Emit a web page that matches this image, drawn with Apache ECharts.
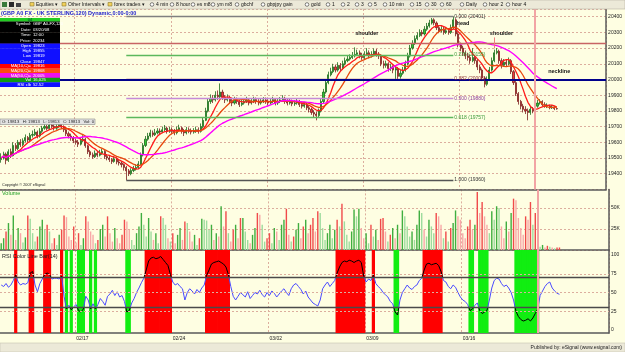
<!DOCTYPE html>
<html>
<head>
<meta charset="utf-8">
<script src="https://cdn.jsdelivr.net/npm/echarts@6/dist/echarts.min.js"></script>
<style>
html,body{margin:0;padding:0;background:#fefee2;}
#main{width:625px;height:352px;}
</style>
</head>
<body>
<div id="main"></div>
<script>
// GBP A0 FX 120-min bars (open = previous close)
var firstOpen = 19490;
var closes = [
 19500,19525,19485,19540,19515,19580,19560,19600,19585,19610,
 19630,19615,19645,19650,19665,19640,19670,19690,19700,19688,
 19710,19702,19690,19700,19715,19698,19680,19655,19640,19628,
 19610,19600,19588,19612,19620,19578,19540,19520,19508,19530,
 19518,19530,19542,19510,19500,19490,19478,19495,19475,19468,
 19458,19440,19418,19400,19420,19432,19440,19462,19520,19580,
 19620,19640,19660,19648,19660,19672,19665,19680,19690,19670,
 19680,19670,19660,19680,19692,19670,19660,19680,19670,19665,
 19672,19680,19670,19700,19740,19800,19860,19880,19870,19900,
 19890,19920,19888,19870,19880,19860,19850,19870,19860,19840,
 19850,19860,19870,19850,19860,19872,19860,19850,19862,19870,
 19860,19850,19860,19872,19850,19860,19870,19880,19860,19850,
 19860,19845,19850,19860,19840,19830,19840,19820,19810,19790,
 19780,19770,19800,19860,19920,19980,20030,20050,20080,20060,
 20090,20070,20100,20120,20130,20140,20150,20160,20170,20150,
 20140,20160,20170,20150,20160,20180,20160,20150,20100,20090,
 20100,20070,20080,20060,20070,20020,20040,20060,20100,20150,
 20200,20230,20260,20280,20300,20290,20320,20340,20360,20380,
 20360,20330,20310,20320,20300,20310,20300,20330,20380,20290,
 20220,20200,20170,20150,20140,20120,20140,20120,20080,20060,
 20010,19970,20000,20060,20120,20170,20180,20120,20090,20110,
 20100,20120,20050,19980,19910,19860,19830,19810,19800,19790,
 19810,19800,19830,19850,19860,19840,19830,19830,19820,19825,
 19815,19813
];
var highs = [
 19530,19540,19535,19555,19560,19600,19595,19615,19620,19625,
 19650,19640,19660,19675,19685,19675,19690,19705,19725,19712,
 19730,19722,19715,19718,19735,19725,19708,19690,19668,19655,
 19640,19625,19615,19630,19645,19630,19585,19550,19535,19548,
 19545,19552,19560,19550,19525,19515,19500,19510,19505,19490,
 19480,19465,19450,19430,19435,19450,19460,19480,19535,19595,
 19640,19660,19680,19675,19685,19690,19688,19700,19710,19700,
 19698,19695,19685,19700,19712,19700,19685,19698,19695,19688,
 19690,19700,19695,19720,19760,19820,19880,19905,19900,19925,
 19930,19975,19935,19900,19905,19895,19880,19890,19885,19870,
 19870,19880,19890,19880,19878,19890,19885,19875,19880,19888,
 19885,19875,19880,19890,19880,19878,19888,19900,19890,19875,
 19880,19872,19868,19878,19870,19855,19858,19850,19835,19820,
 19805,19795,19815,19875,19940,20000,20050,20075,20100,20095,
 20110,20105,20120,20140,20150,20160,20175,20205,20190,20185,
 20170,20180,20200,20185,20180,20198,20195,20175,20160,20120,
 20120,20110,20100,20090,20090,20080,20060,20080,20120,20170,
 20220,20250,20280,20300,20320,20315,20340,20360,20380,20392,
 20390,20370,20345,20340,20335,20330,20325,20350,20401,20390,
 20300,20235,20215,20185,20170,20160,20200,20155,20130,20095,
 20070,20020,20020,20080,20140,20190,20200,20190,20135,20130,
 20125,20140,20130,20060,19990,19920,19870,19845,19830,19815,
 19825,19825,19845,19870,19875,19868,19855,19848,19840,19838,
 19830,19822
];
var lows = [
 19470,19490,19460,19475,19500,19510,19545,19550,19570,19575,
 19600,19600,19605,19630,19640,19625,19630,19660,19680,19675,
 19680,19690,19675,19680,19692,19685,19665,19640,19625,19610,
 19595,19585,19570,19580,19600,19565,19525,19505,19495,19500,
 19505,19510,19520,19495,19485,19475,19462,19470,19460,19452,
 19440,19420,19360,19385,19390,19410,19420,19430,19455,19510,
 19570,19610,19630,19635,19640,19650,19650,19658,19670,19655,
 19660,19655,19645,19650,19670,19655,19640,19650,19658,19650,
 19655,19660,19655,19662,19690,19735,19790,19845,19850,19860,
 19870,19880,19870,19850,19860,19845,19830,19840,19845,19825,
 19830,19840,19850,19835,19840,19850,19845,19835,19840,19850,
 19845,19835,19840,19850,19835,19838,19850,19860,19845,19835,
 19840,19830,19832,19840,19825,19815,19820,19805,19790,19775,
 19760,19740,19755,19790,19850,19910,19970,20020,20040,20045,
 20050,20050,20060,20090,20110,20120,20130,20140,20150,20135,
 20125,20130,20150,20135,20140,20150,20145,20130,20085,20070,
 20075,20050,20055,20040,20000,19995,20005,20030,20050,20090,
 20140,20190,20220,20250,20270,20275,20280,20310,20330,20350,
 20345,20315,20295,20300,20285,20290,20285,20290,20320,20275,
 20205,20180,20150,20130,20120,20100,20110,20100,20060,20040,
 19990,19950,19960,19990,20050,20110,20160,20100,20070,20080,
 20085,20090,20035,19965,19895,19840,19810,19790,19780,19740,
 19775,19785,19790,19820,19840,19830,19820,19818,19810,19812,
 19805,19808
];
// volume in thousands
var volumes = [
 8,14,22,32,18,41,12,26,20,9,
 15,41,37,20,10,16,28,36,24,30,
 22,8,14,6,18,24,41,39,16,12,
 28,9,20,6,14,40,34,22,18,8,
 12,25,30,16,40,20,10,26,14,8,
 18,36,34,24,12,6,20,28,44,30,
 16,38,22,12,20,8,40,38,30,14,
 10,20,8,18,26,12,34,32,22,10,
 18,6,14,37,36,35,24,30,12,20,
 16,52,28,46,20,10,24,30,14,38,
 38,22,12,8,18,26,44,42,30,10,
 14,20,8,26,22,12,30,36,49,18,
 10,16,24,32,14,28,36,20,30,38,
 22,46,44,26,12,20,30,14,24,36,
 28,55,34,18,10,22,48,40,49,26,
 14,20,8,30,16,24,12,37,38,22,
 10,18,26,14,30,20,47,40,28,16,
 22,12,30,47,44,24,16,36,28,20,
 44,40,30,14,22,10,26,32,47,40,
 36,20,14,28,36,24,30,69,44,57,
 40,30,20,46,36,52,50,28,14,34,
 22,44,61,59,38,26,18,40,36,57,
 30,44,8,4,6,3,5,4,3,2,
 3,3
];
var rsi = [
 60,58,62,57,60,66,73,64,60,62,
 61,63,76,78,60,51,62,68,74,76,
 74,68,69,69,68,72,45,28,33,27,
 31,34,26,24,28,45,40,28,35,28,
 34,42,38,33,45,48,53,46,51,44,
 46,38,24,26,36,42,50,56,63,69,
 80,92,96,97,95,96,98,94,90,86,
 74,64,60,62,58,55,40,50,55,52,
 48,54,50,56,60,73,80,88,90,91,
 92,90,88,84,74,58,45,40,45,50,
 47,44,51,42,46,50,48,53,47,44,
 50,46,52,49,44,48,52,55,50,46,
 55,60,62,58,54,48,52,44,40,36,
 34,32,40,55,60,64,58,62,66,76,
 84,90,92,91,93,92,90,92,93,90,
 72,64,68,66,73,62,58,55,50,47,
 44,38,35,24,20,40,50,55,60,56,
 54,58,60,66,69,80,88,89,87,88,
 89,86,78,66,64,58,55,60,57,50,
 44,40,38,34,26,28,33,36,26,22,
 24,26,40,56,66,69,68,62,58,60,
 56,50,40,25,18,14,12,13,15,12,
 16,22,28,46,52,58,62,64,56,52,
 49,47.6
];

var weekStarts = [31, 71, 111, 151, 191];
var weekLabels = ['02/17', '02/24', '03/02', '03/09', '03/16'];
var maPeriods = [7, 13, 33];
var maColors = ['#ff1a1a', '#e8480c', '#ff00ff'];
var fibLevels = [0, 0.236, 0.382, 0.5, 0.618, 1];
var fibLineColors = ['#808080', '#5cb85c', '#b06060', '#c58ad8', '#5cb85c', '#555555'];
var fibTextColors = ['#333333', '#3a9a3a', '#903030', '#9040a0', '#3a9a3a', '#333333'];
var fibHigh = 20401, fibLow = 19360, fibFrom = 52, fibTo = 188;
var necklinePrice = 20000, upperLinePrice = 20230;
var markerBar = 222;
var noteNames = ['shoulder', 'head', 'shoulder', 'neckline'];
var noteBars = [152, 192, 208, 232];
var notePrices = [20290, 20358, 20290, 20050];
var rsiUpper = 70, rsiLower = 30;

var dwLabels = ['', 'Symbol:', 'Date:', 'Time:', 'Price:', 'Open', 'High', 'Low', 'Close', 'MA(10,C)=', 'MA(20,C)=', 'MA(50,C)=', 'Vol', 'RSI clb'];
var dwValues = ['04', 'GBP A0-FX,120', '03/20/08', '12:00', '20234', '19823', '19855', '19819', '19847', '19816', '19868', '20005', '16,025', '52.52'];
var dwColors = ['#22cc22', '#000', '#000', '#000', '#000', '#1010ff', '#1010ff', '#1010ff', '#1010ff', '#ff0000', '#ff4a10', '#ee10ee', '#119911', '#1010ff'];
var dwHeights = [3.5, 5.5, 5.5, 5.5, 5.5, 5.1, 5.1, 5.1, 5.1, 4.6, 4.6, 4.6, 4.6, 4.6];

var toolbarItems = ['Equities \u25BE', 'Other Intervals \u25BE', 'forex trades \u25BE', '4 min', '8 hour', 'es m8', 'ym m8', 'gbchf', 'gbpjpy gain', 'gold', '1', '2', '3', '5', '10 min', '15', '30', '60', 'Daily', 'hour 2', 'hour 4'];
var toolbarX = [30, 62, 108, 150, 170, 191, 211, 235, 261, 305, 326, 341, 355, 368, 383, 410, 425, 440, 460, 483, 506];

var FONT = 'Liberation Sans';
var SLOTS = 252;
var last = closes.length - 1;

var cats = [];
for (var s = 0; s < SLOTS; s++) cats.push(String(s));
var opens = closes.map(function (c, i) { return i === 0 ? firstOpen : closes[i - 1]; });
var candles = closes.map(function (c, i) { return [opens[i], c, lows[i], highs[i]]; });

function movingAverage(period) {
    return closes.map(function (c, i) {
        var from = Math.max(0, i - period + 1), sum = 0;
        for (var k = from; k <= i; k++) sum += closes[k];
        return +(sum / (i - from + 1)).toFixed(1);
    });
}

function isWeekStart(idx) { return weekStarts.indexOf(idx) >= 0; }

// volume colour: up/down, light when volume fell from the bar before
var volData = volumes.map(function (v, i) {
    var up = closes[i] >= opens[i];
    var rising = i === 0 || v >= volumes[i - 1];
    var c = up ? (rising ? '#3fae3f' : '#9edc9e') : (rising ? '#f04a4a' : '#f8a8a8');
    return {value: v, itemStyle: {color: c}};
});

// RSI colour bars: red above upper, green below lower
var bandData = rsi.map(function (v) {
    if (v > rsiUpper) return {value: 1, itemStyle: {color: '#ff0000'}};
    if (v < rsiLower) return {value: 1, itemStyle: {color: '#11ee11'}};
    return '-';
});

var fibLines = fibLevels.map(function (lv, k) {
    var p = fibHigh - lv * (fibHigh - fibLow);
    return [
        {coord: [fibFrom, p], lineStyle: {color: fibLineColors[k], width: 1.3, type: 'solid'},
         label: {show: true, position: 'end', distance: 1, padding: [0, 0, 6, 0], fontSize: 5, fontFamily: FONT,
                 color: fibTextColors[k], formatter: lv.toFixed(3) + ' (' + Math.floor(p) + ')'}},
        {coord: [fibTo, p]}
    ];
});

var markerLine = {xAxis: markerBar, lineStyle: {color: '#f2a4a4', width: 2, type: 'solid'}};

function makeX(gi, showLabels) {
    return {
        type: 'category', gridIndex: gi, data: cats, boundaryGap: true,
        axisLine: {show: true, onZero: false, lineStyle: {color: '#5a5a5a', width: 1.5}},
        axisTick: {show: false},
        axisLabel: showLabels ? {
            show: true, interval: isWeekStart, align: 'left', margin: 3, fontSize: 5, fontFamily: FONT, color: '#222',
            formatter: function (v, idx) { var k = weekStarts.indexOf(idx); return k >= 0 ? weekLabels[k] : ''; }
        } : {show: false},
        splitLine: {show: true, interval: isWeekStart, lineStyle: {color: '#dcae9e', width: 1, type: [2, 2]}}
    };
}

var rightAxisLine = {show: true, lineStyle: {color: '#5a5a5a', width: 1.5}};
var dotted = {color: '#dcae9e', width: 1, type: [2, 2]};

var graphics = [];
function addText(x, y, s, size, color, align, bold) {
    graphics.push({type: 'text', x: x, y: y, z: 100, silent: true,
        style: {text: s, fill: color, font: (bold ? 'bold ' : '') + size + 'px ' + FONT,
                textAlign: align || 'left', textVerticalAlign: 'middle'}});
}
function addRect(x, y, w, h, fill, stroke) {
    graphics.push({type: 'rect', z: 99, silent: true, shape: {x: x, y: y, width: w, height: h},
        style: {fill: fill, stroke: stroke || null, lineWidth: stroke ? 0.6 : 0}});
}

// toolbar
addRect(0, 0, 625, 9, '#ece9d8', '#b8b4a4');
addRect(2, 2, 5, 5, '#3a7a3a');
addRect(9, 2, 5, 5, '#2a2a2a');
addRect(16, 3, 5, 4, '#444');
toolbarItems.forEach(function (t, k) {
    var x = toolbarX[k];
    if (k < 3) {
        addRect(x, 2.5, 4, 3.5, '#f2d15a', '#8a7a30');
    } else {
        graphics.push({type: 'circle', z: 100, silent: true, shape: {cx: x + 2, cy: 4.5, r: 1.8},
            style: {fill: '#fff', stroke: '#333', lineWidth: 0.6}});
    }
    addText(x + 6, 4.7, t, 5, '#111');
});

addText(1, 13, '(GBP A0 FX - UK STERLING,120) Dynamic,0:00-0:00', 5.5, '#1a1acc', 'left', true);

// data window
var yy = 18;
dwLabels.forEach(function (lab, k) {
    addRect(0, yy, 60, dwHeights[k] + 0.2, dwColors[k]);
    if (k === 0) {
        addText(30, yy + dwHeights[k] / 2, dwValues[k], 4, '#033', 'center');
    } else {
        addText(31, yy + dwHeights[k] / 2, lab, 4.2, '#fff', 'right');
        addText(33, yy + dwHeights[k] / 2, dwValues[k], 4.2, '#fff', 'left');
    }
    yy += dwHeights[k];
});

// cursor OHLC strip
addRect(0, 119, 95, 5.5, '#e4e4e4', '#8a8a8a');
addText(2, 122, 'O: ' + closes[last] + '   H: ' + closes[last] + '   L: ' + closes[last] + '   C: ' + closes[last] + '   Vol: 0', 4.2, '#222');

addText(2, 184.5, 'Copyright \u00A9 2007 eSignal', 3.8, '#222');
addText(2, 193.5, 'Volume', 5.5, '#22a022');
addText(2, 256, 'RSI Color Line Bar(14)', 5.5, '#222');

// footer
addRect(0, 343, 625, 9, '#ece9d8', '#c8c4b4');
addText(622, 347.8, 'Published by: eSignal (www.esignal.com)', 5, '#222', 'right');

var chart = echarts.init(document.getElementById('main'));
var option = {
    animation: false,
    backgroundColor: '#fefee2',
    textStyle: {fontFamily: FONT},
    grid: [
        {left: 0, right: 16, top: 9, height: 180.4},
        {left: 0, right: 16, top: 189.4, height: 60.6},
        {left: 0, right: 16, top: 250, height: 83}
    ],
    xAxis: [makeX(0, false), makeX(1, false), makeX(2, true)],
    yAxis: [
        {type: 'value', gridIndex: 0, position: 'right', min: 19300, max: 20449, interval: 100,
         axisLine: rightAxisLine, axisTick: {show: false},
         axisLabel: {fontSize: 5, fontFamily: FONT, color: '#222', margin: 2, showMinLabel: false, showMaxLabel: false,
                     formatter: function (v) { return String(v); }},
         splitLine: {show: true, lineStyle: dotted}},
        {type: 'value', gridIndex: 1, position: 'right', min: 0, max: 72, interval: 25,
         axisLine: rightAxisLine, axisTick: {show: false},
         axisLabel: {fontSize: 5, fontFamily: FONT, color: '#222', margin: 2, showMinLabel: false, showMaxLabel: false,
                     formatter: function (v) { return v + 'K'; }},
         splitLine: {show: true, lineStyle: dotted}},
        {type: 'value', gridIndex: 2, position: 'right', min: -4, max: 106.67,
         axisLine: rightAxisLine, axisTick: {show: false, customValues: [0, 25, 50, 75, 100]},
         axisLabel: {fontSize: 5, fontFamily: FONT, color: '#222', margin: 2, customValues: [0, 25, 50, 75, 100]},
         splitLine: {show: false}},
        {type: 'value', gridIndex: 2, min: 0, max: 1, show: false}
    ],
    visualMap: [{
        show: false, type: 'piecewise', seriesIndex: 6, dimension: 1,
        pieces: [{gt: rsiUpper, color: '#000000'}, {lt: rsiLower, color: '#000000'}, {gte: rsiLower, lte: rsiUpper, color: '#4a4aff'}]
    }],
    series: [
        {
            name: 'GBP', type: 'candlestick', xAxisIndex: 0, yAxisIndex: 0, data: candles, barWidth: 1.6,
            itemStyle: {color: '#33c433', color0: '#f03a3a', borderColor: '#1d6b1d', borderColor0: '#7a2020', borderWidth: 0.8},
            markLine: {
                silent: true, symbol: ['none', 'none'], animation: false, label: {show: false},
                data: fibLines.concat([
                    {yAxis: upperLinePrice, lineStyle: {color: '#c86464', width: 1.3, type: 'solid'}},
                    {yAxis: necklinePrice, lineStyle: {color: '#00008b', width: 1.8, type: 'solid'}},
                    markerLine,
                    [{coord: [205, 20268], lineStyle: {color: '#f08080', width: 1, type: 'solid'}}, {coord: [205, 20198]}],
                    {yAxis: closes[last], lineStyle: {opacity: 0},
                     label: {show: true, position: 'end', distance: 2, formatter: String(closes[last]), fontSize: 5,
                             fontFamily: FONT, color: '#fff', backgroundColor: '#ee0000', padding: [1, 1, 0, 1]}}
                ])
            },
            markPoint: {
                silent: true, symbol: 'rect', symbolSize: 1, itemStyle: {color: 'rgba(0,0,0,0)'},
                label: {show: true, position: 'inside', fontSize: 5.5, fontWeight: 'bold', fontFamily: FONT, color: '#111',
                        formatter: function (p) { return p.name; }},
                data: noteNames.map(function (n, k) { return {name: n, coord: [noteBars[k], notePrices[k]]}; })
            }
        },
        {name: 'MA10', type: 'line', xAxisIndex: 0, yAxisIndex: 0, data: movingAverage(maPeriods[0]), showSymbol: false,
         lineStyle: {color: maColors[0], width: 1.3}, silent: true},
        {name: 'MA20', type: 'line', xAxisIndex: 0, yAxisIndex: 0, data: movingAverage(maPeriods[1]), showSymbol: false,
         lineStyle: {color: maColors[1], width: 1.3}, silent: true},
        {name: 'MA50', type: 'line', xAxisIndex: 0, yAxisIndex: 0, data: movingAverage(maPeriods[2]), showSymbol: false,
         lineStyle: {color: maColors[2], width: 1.4}, silent: true},
        {
            name: 'Volume', type: 'bar', xAxisIndex: 1, yAxisIndex: 1, data: volData, barWidth: 1.4,
            markLine: {
                silent: true, symbol: ['none', 'none'], label: {show: false},
                data: [markerLine,
                    {yAxis: volumes[last], lineStyle: {opacity: 0},
                     label: {show: true, position: 'end', distance: 2, formatter: String(volumes[last]), fontSize: 5,
                             fontFamily: FONT, color: '#fff', backgroundColor: '#ee0000', padding: [1, 2, 0, 2]}}]
            }
        },
        {name: 'Bands', type: 'bar', xAxisIndex: 2, yAxisIndex: 3, data: bandData, barWidth: 3.2, silent: true, z: 1},
        {
            name: 'RSI', type: 'line', xAxisIndex: 2, yAxisIndex: 2, data: rsi, showSymbol: false,
            lineStyle: {width: 1}, silent: true, z: 3,
            markLine: {
                silent: true, symbol: ['none', 'none'], label: {show: false},
                data: [
                    {yAxis: 25, lineStyle: dotted}, {yAxis: 50, lineStyle: dotted}, {yAxis: 75, lineStyle: dotted},
                    {yAxis: rsiUpper, lineStyle: {color: '#4a4a4a', width: 1.3, type: 'solid'}},
                    {yAxis: rsiLower, lineStyle: {color: '#4a4a4a', width: 1.3, type: 'solid'}},
                    markerLine,
                    {yAxis: rsi[last], lineStyle: {opacity: 0},
                     label: {show: true, position: 'end', distance: 2, formatter: rsi[last].toFixed(2), fontSize: 5,
                             fontFamily: FONT, color: '#fff', backgroundColor: '#1a1aff', padding: [1, 1, 0, 1]}}
                ]
            }
        }
    ],
    graphic: graphics
};
chart.setOption(option);
</script>
</body>
</html>
